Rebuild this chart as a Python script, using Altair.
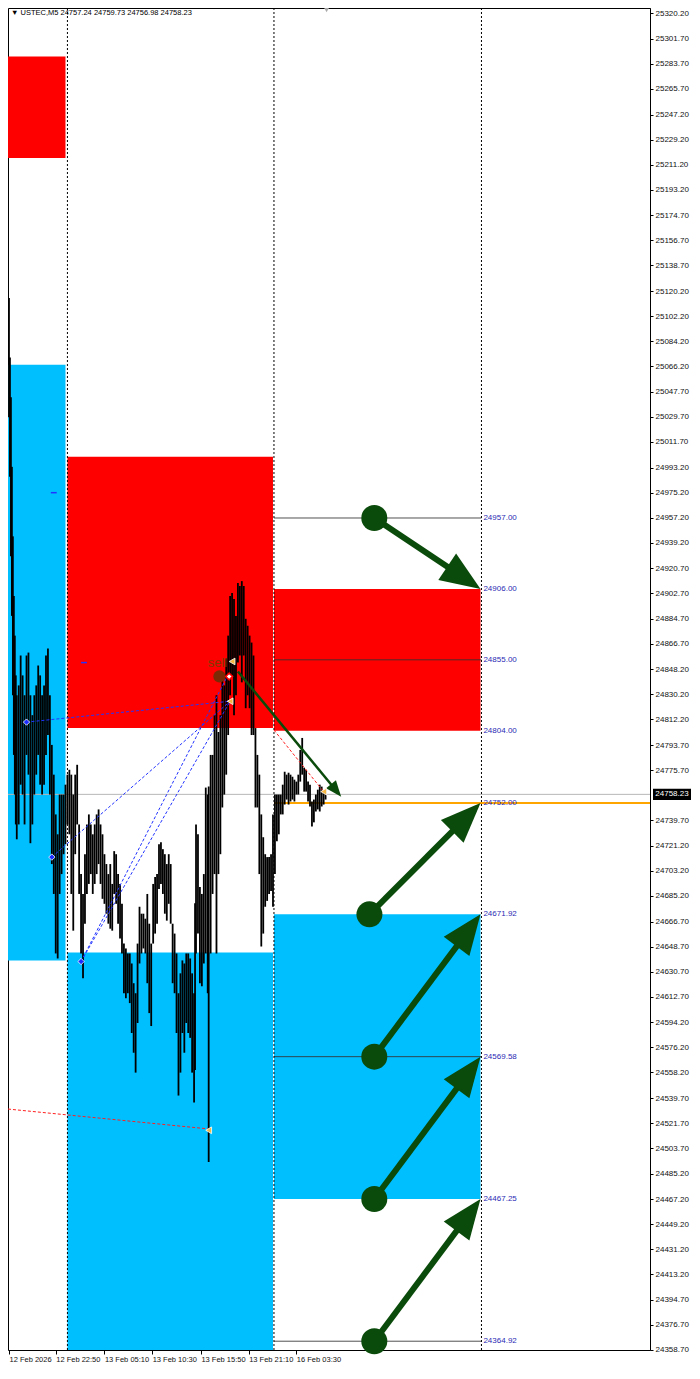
import math
import altair as alt
import pandas as pd

# ---------------- data ----------------
price_bar = [1, 2, 3, 4, 5, 6, 7, 8, 9, 10, 12, 14, 16, 18, 20, 22, 24, 26, 28, 30,
             32, 34, 36, 38, 40, 42, 44, 46, 48, 50, 52, 54, 56, 58, 60, 62, 64, 66, 68, 70,
             72, 74, 76, 78, 80, 82, 84, 86, 88, 90, 92, 94, 96, 98, 100, 102, 104, 106, 108, 110,
             112, 114, 116, 118, 120, 122, 124, 126, 128, 130, 132, 134, 136, 138, 140, 142, 144, 146, 148, 150,
             152, 154, 156, 158, 160, 162, 164, 166, 168, 170, 172, 174, 176, 178, 180, 182, 184, 186, 188, 190,
             192, 193, 194, 196, 198, 200, 202, 204, 206, 207, 209, 211, 213, 215, 217, 219, 221, 223, 225, 227,
             229, 231, 233, 235, 237, 239, 241, 243, 245, 247, 249, 251, 253, 255, 257, 259, 261, 263, 265, 267,
             269, 271, 273, 275, 277, 279, 281, 283, 285, 287, 289, 291, 293, 295, 297, 299, 301, 303, 305, 307,
             309, 311, 313, 315, 317, 319, 321, 323, 325, 327]
price_high = [25175.9, 25115.2, 25072.4, 25043.8, 24993.8, 24943.8, 24900.9, 24872.4, 24843.8, 24829.5,
              24836.6, 24858.1, 24843.8, 24829.5, 24858.1, 24860.2, 24829.5, 24815.2, 24829.5, 24836.6,
              24850.9, 24843.8, 24829.5, 24836.6, 24858.1, 24863.1, 24829.5, 24793.8, 24772.4, 24743.8,
              24729.5, 24758.1, 24758.1, 24758.1, 24765.2, 24772.4, 24775.9, 24772.4, 24758.1, 24772.4,
              24779.5, 24736.6, 24700.9, 24686.6, 24715.2, 24736.6, 24743.8, 24736.6, 24729.5, 24736.6,
              24743.8, 24747.4, 24736.6, 24729.5, 24715.2, 24708.1, 24700.9, 24708.1, 24693.8, 24717.4,
              24715.2, 24700.9, 24693.8, 24679.5, 24650.9, 24647.4, 24643.8, 24643.8, 24636.6, 24622.4,
              24615.2, 24650.9, 24677.4, 24672.4, 24672.4, 24668.8, 24686.6, 24665.2, 24650.9, 24693.8,
              24698.8, 24700.9, 24722.4, 24723.8, 24718.8, 24715.2, 24708.1, 24715.2, 24708.1, 24665.2,
              24658.1, 24643.8, 24615.2, 24629.5, 24638.8, 24636.6, 24643.8, 24643.8, 24640.2, 24629.5,
              24615.2, 24680.0, 24736.6, 24729.5, 24691.6, 24686.6, 24700.9, 24763.1, 24758.1, 24763.8,
              24786.6, 24786.6, 24815.2, 24829.5, 24803.1, 24815.2, 24843.8, 24836.6, 24855.9, 24872.4,
              24900.9, 24903.1, 24898.8, 24886.6, 24910.2, 24908.1, 24911.6, 24908.1, 24884.5, 24879.5,
              24872.4, 24867.4, 24858.1, 24805.9, 24786.6, 24772.4, 24743.8, 24727.4, 24715.2, 24713.1,
              24713.1, 24715.2, 24743.8, 24758.1, 24758.1, 24758.1, 24758.1, 24765.2, 24774.5, 24772.4,
              24773.8, 24772.4, 24770.9, 24768.8, 24767.4, 24772.4, 24790.2, 24798.8, 24777.4, 24775.9,
              24767.4, 24765.2, 24753.1, 24754.5, 24758.1, 24761.6, 24765.2, 24763.8, 24760.2, 24761.6]
price_low = [25093.8, 25029.5, 24986.6, 24929.5, 24886.6, 24829.5, 24786.6, 24758.1, 24736.6, 24725.9,
             24736.6, 24765.2, 24758.1, 24736.6, 24786.6, 24772.4, 24723.1, 24736.6, 24758.1, 24772.4,
             24786.6, 24765.2, 24758.1, 24765.2, 24786.6, 24800.9, 24758.1, 24708.1, 24686.6, 24643.8,
             24640.2, 24686.6, 24700.9, 24715.2, 24722.4, 24736.6, 24729.5, 24686.6, 24660.2, 24715.2,
             24736.6, 24686.6, 24643.8, 24625.9, 24665.2, 24686.6, 24693.8, 24700.9, 24686.6, 24693.8,
             24700.9, 24708.1, 24693.8, 24683.1, 24679.5, 24672.4, 24665.2, 24661.6, 24660.2, 24686.6,
             24679.5, 24665.2, 24654.5, 24643.8, 24615.2, 24611.6, 24615.2, 24608.1, 24586.6, 24572.4,
             24558.1, 24593.8, 24636.6, 24643.8, 24647.4, 24643.8, 24622.4, 24600.9, 24591.6, 24650.9,
             24658.1, 24665.2, 24690.2, 24693.8, 24686.6, 24672.4, 24667.4, 24679.5, 24665.2, 24622.4,
             24615.2, 24586.6, 24541.6, 24558.1, 24586.6, 24572.4, 24593.8, 24586.6, 24583.1, 24558.1,
             24536.6, 24560.0, 24643.8, 24658.1, 24622.4, 24620.2, 24636.6, 24643.8, 24615.2, 24493.8,
             24643.8, 24686.6, 24700.9, 24643.8, 24700.9, 24715.2, 24748.8, 24758.1, 24772.4, 24800.9,
             24829.5, 24843.8, 24815.2, 24829.5, 24853.1, 24858.1, 24838.8, 24858.1, 24820.2, 24829.5,
             24820.2, 24800.9, 24800.9, 24748.8, 24748.8, 24700.9, 24648.8, 24658.1, 24677.4, 24681.6,
             24686.6, 24688.8, 24677.4, 24700.9, 24724.5, 24729.5, 24743.8, 24743.8, 24750.9, 24754.5,
             24750.9, 24753.1, 24754.5, 24753.1, 24758.1, 24758.1, 24767.4, 24772.4, 24760.2, 24760.2,
             24753.1, 24749.5, 24735.2, 24738.1, 24745.9, 24747.4, 24745.9, 24749.5, 24750.9, 24754.5]

# supply / demand zones
zone_start = [1, 1, 62, 62, 274, 274]
zone_end = [60, 60, 273, 273, 486, 486]
zone_top = [25289.0, 25067.3, 25001.0, 24644.5, 24906.00, 24671.92]
zone_bottom = [25216.0, 24638.8, 24806.0, 24300.0, 24804.00, 24467.25]
zone_kind = ["supply", "demand", "supply", "demand", "supply", "demand"]

# price levels of the projection grid
level_price = [24957.00, 24906.00, 24855.00, 24804.00, 24752.00, 24671.92, 24569.58, 24467.25, 24364.92]
level_line_price = [24957.00, 24855.00, 24569.58, 24364.92]
level_start, level_end, level_label_bar = 274, 487, 489
pivot_price = 24752.00
current_price = 24758.23

# period separators
separator_bar = [62, 274, 487]

# x-axis ticks
tick_bar = [2, 50, 100, 149, 199, 248, 297]
tick_text = ["12 Feb 2026", "12 Feb 22:50", "13 Feb 05:10", "13 Feb 10:30",
             "13 Feb 15:50", "13 Feb 21:10", "16 Feb 03:30"]

# y-axis ticks (24757.70 is hidden behind the current-price box)
y_ticks = [25320.20, 25301.70, 25283.70, 25265.70, 25247.20, 25229.20, 25211.20, 25193.20, 25174.70,
           25156.70, 25138.70, 25120.20, 25102.20, 25084.20, 25066.20, 25047.70, 25029.70, 25011.70,
           24993.20, 24975.20, 24957.20, 24939.20, 24920.70, 24902.70, 24884.70, 24866.70, 24848.20,
           24830.20, 24812.20, 24793.70, 24775.70, 24739.70, 24721.20, 24703.20, 24685.20,
           24666.70, 24648.70, 24630.70, 24612.70, 24594.20, 24576.20, 24558.20, 24539.70, 24521.70,
           24503.70, 24485.20, 24467.20, 24449.20, 24431.20, 24413.20, 24394.70, 24376.70, 24358.70]

# big green projection arrows
arrow_from_bar = [377, 372, 377, 377, 377]
arrow_from_price = [24957.00, 24671.92, 24569.58, 24467.25, 24364.92]
arrow_to_bar = [486, 486, 486, 486, 486]
arrow_to_price = [24906.00, 24752.00, 24671.92, 24569.58, 24467.25]

# small green arrow from the sell signal
sarrow_from_bar, sarrow_from_price = 237, 24846.6
sarrow_to_bar, sarrow_to_price = 343, 24756.6

# signal objects
blue_pt_bar = [20, 46, 76]
blue_pt_price = [24810.2, 24713.1, 24638.0]
blue_line_from_bar = [20, 46, 76, 76]
blue_line_from_price = [24810.2, 24713.1, 24638.0, 24638.0]
blue_line_to_bar = [229, 229, 226, 229]
blue_line_to_price = [24825.2, 24825.2, 24843.0, 24825.2]
blue_dash_from_bar = [45, 76]
blue_dash_to_bar = [51, 82]
blue_dash_price = [24975.2, 24853.0]
yellow_pt_bar = [231, 229, 207, 325]
yellow_pt_price = [24853.8, 24825.2, 24516.6, 24760.2]
red_line_from_bar = [1, 274]
red_line_from_price = [24531.9, 24804.5]
red_line_to_bar = [207, 325]
red_line_to_price = [24517.6, 24760.2]
red_diamond_bar, red_diamond_price = 228, 24843.0
sell_bar, sell_price = 218, 24843.0
sell_text_bar, sell_text_price = 216, 24853.0
top_marker_bar = 328

title_text = "\u25BC USTEC,M5  24757.24 24759.73 24756.98 24758.23"

# ---------------- layout / style ----------------
X_MIN, X_MAX = 1, 660
Y_MIN, Y_MAX = 24358.6, 25323.8
W, H = 642, 1342
PAD_RIGHT, PAD_BOTTOM = 42, 14
FONT = "Liberation Sans, Arial, sans-serif"
GREEN = "#0a4a0a"
HEAD_PATH = "M0,0 L0.8,2 L-0.8,2 Z"
BOX_PATH = "M-1,-0.3 L1,-0.3 L1,0.3 L-1,0.3 Z"

xs = alt.Scale(domain=[X_MIN, X_MAX], nice=False, zero=False)
ys = alt.Scale(domain=[Y_MIN, Y_MAX], nice=False, zero=False)

label_expr = " : ".join(f"datum.value == {b} ? '{t}'" for b, t in zip(tick_bar, tick_text)) + " : ''"
x_axis = alt.Axis(values=tick_bar, labelExpr=label_expr, orient="bottom", tickSize=4, tickColor="#000",
                  labelAlign="left", labelBaseline="top", labelPadding=1, labelFontSize=7.5,
                  labelFont=FONT, labelColor="#111", domain=False, grid=False, labelOverlap=False,
                  labelFlush=False, title=None)
y_axis = alt.Axis(values=y_ticks, format=".2f", orient="right", tickSize=3, tickColor="#000",
                  labelPadding=2, labelFontSize=8, labelFont=FONT, labelColor="#111",
                  domain=True, domainColor="#000", grid=False, labelOverlap=False,
                  labelFlush=False, title=None)


def X(field):
    return alt.X(field, type="quantitative", scale=xs, axis=x_axis, title=None)


def Y(field):
    return alt.Y(field, type="quantitative", scale=ys, axis=y_axis, title=None)


def segments(df, color, width, dash=None, opacity=1.0):
    kw = dict(color=color, strokeWidth=width, opacity=opacity, clip=True)
    if dash is not None:
        kw["strokeDash"] = dash
    return alt.Chart(df).mark_rule(**kw).encode(x=X("b0"), x2="b1:Q", y=Y("p0"), y2="p1:Q")


# zones
zones_df = pd.DataFrame({"b0": zone_start, "b1": zone_end, "top": zone_top,
                         "bottom": zone_bottom, "kind": zone_kind})
zones = alt.Chart(zones_df).mark_rect(clip=True).encode(
    x=X("b0"),
    x2="b1:Q",
    y=Y("top"),
    y2="bottom:Q",
    color=alt.Color("kind:N", scale=alt.Scale(domain=["supply", "demand"],
                                              range=["#ff0000", "#00bfff"]), legend=None),
)

# current price line (grey) across the chart
cur_df = pd.DataFrame({"b0": [X_MIN], "b1": [X_MAX], "p0": [current_price], "p1": [current_price]})
cur_line = segments(cur_df, "#b8b8b8", 1)

# level lines
lvl_df = pd.DataFrame({"b0": [level_start] * len(level_line_price), "b1": [level_end] * len(level_line_price),
                       "p0": level_line_price, "p1": level_line_price})
lvl_lines = segments(lvl_df, "#333333", 1, opacity=0.85)

pivot_df = pd.DataFrame({"b0": [level_start], "b1": [X_MAX], "p0": [pivot_price], "p1": [pivot_price]})
pivot_line = segments(pivot_df, "#ffa500", 2)

# separators
sep_df = pd.DataFrame({"b": separator_bar})
separators = alt.Chart(sep_df).mark_rule(color="#000", strokeWidth=1, strokeDash=[2, 2]).encode(x=X("b"))

# price bars
price_df = pd.DataFrame({"bar": price_bar, "high": price_high, "low": price_low})
assert len(price_bar) == len(price_high) == len(price_low)
prices = alt.Chart(price_df).mark_rule(color="#000", strokeWidth=1.8, clip=True).encode(
    x=X("bar"), y=Y("high"), y2="low:Q")

# dashed signal lines
blue_df = pd.DataFrame({"b0": blue_line_from_bar, "b1": blue_line_to_bar,
                        "p0": blue_line_from_price, "p1": blue_line_to_price})
blue_lines = segments(blue_df, "#2233ff", 1, dash=[3, 2])
bdash_df = pd.DataFrame({"b0": blue_dash_from_bar, "b1": blue_dash_to_bar,
                         "p0": blue_dash_price, "p1": blue_dash_price})
blue_dashes = segments(bdash_df, "#2233ff", 1.5)
red_df = pd.DataFrame({"b0": red_line_from_bar, "b1": red_line_to_bar,
                       "p0": red_line_from_price, "p1": red_line_to_price})
red_lines = segments(red_df, "#ff2020", 1, dash=[3, 2])

# markers
blue_pts = alt.Chart(pd.DataFrame({"b": blue_pt_bar, "p": blue_pt_price})).mark_point(
    shape="diamond", filled=True, color="#1a2cff", size=40, opacity=1,
    stroke="#ffffff", strokeWidth=0.8).encode(x=X("b"), y=Y("p"))
yellow_pts = alt.Chart(pd.DataFrame({"b": yellow_pt_bar, "p": yellow_pt_price})).mark_point(
    shape="triangle-left", filled=True, color="#f4b642", size=45, opacity=1,
    stroke="#ffffff", strokeWidth=0.8).encode(x=X("b"), y=Y("p"))
red_diamond = alt.Chart(pd.DataFrame({"b": [red_diamond_bar], "p": [red_diamond_price]})).mark_point(
    shape="diamond", filled=True, fill="#ffffff", stroke="#ff0000", strokeWidth=1.5, size=45,
    opacity=1).encode(x=X("b"), y=Y("p"))
sell_dot = alt.Chart(pd.DataFrame({"b": [sell_bar], "p": [sell_price]})).mark_point(
    shape="circle", filled=True, color="#7a2a05", size=150, opacity=1).encode(x=X("b"), y=Y("p"))
sell_text = alt.Chart(pd.DataFrame({"b": [sell_text_bar], "p": [sell_text_price], "t": ["sell"]})).mark_text(
    fontSize=13, font=FONT, color="#7f3a00", align="center",
    baseline="middle").encode(x=X("b"), y=Y("p"), text="t:N")

# arrows
kx = W / (X_MAX - X_MIN)
ky = H / (Y_MAX - Y_MIN)


def arrow_frames(b0s, p0s, b1s, p1s, head_len):
    shafts, heads = [], []
    for b0, p0, b1, p1 in zip(b0s, p0s, b1s, p1s):
        dx = (b1 - b0) * kx
        dy = -(p1 - p0) * ky
        dist = math.hypot(dx, dy)
        ang = math.degrees(math.atan2(dx, -dy)) % 360
        t = 1 - (head_len * 0.6) / dist
        shafts.append({"b0": b0, "p0": p0, "b1": b0 + t * (b1 - b0), "p1": p0 + t * (p1 - p0)})
        heads.append({"b": b1, "p": p1, "ang": ang})
    return pd.DataFrame(shafts), pd.DataFrame(heads)


big_shaft_df, big_head_df = arrow_frames(arrow_from_bar, arrow_from_price, arrow_to_bar, arrow_to_price, 40)
big_shafts = segments(big_shaft_df, GREEN, 6)
big_heads = alt.Chart(big_head_df).mark_point(shape=HEAD_PATH, filled=True, color=GREEN, opacity=1,
                                              size=1600, strokeWidth=0).encode(
    x=X("b"), y=Y("p"), angle=alt.Angle("ang:Q", scale=None))
circles = alt.Chart(pd.DataFrame({"b": arrow_from_bar, "p": arrow_from_price})).mark_point(
    shape="circle", filled=True, color=GREEN, size=676, opacity=1).encode(x=X("b"), y=Y("p"))

s_shaft_df, s_head_df = arrow_frames([sarrow_from_bar], [sarrow_from_price], [sarrow_to_bar],
                                     [sarrow_to_price], 16)
s_shaft = segments(s_shaft_df, GREEN, 2.5)
s_head = alt.Chart(s_head_df).mark_point(shape=HEAD_PATH, filled=True, color=GREEN, opacity=1,
                                         size=256, strokeWidth=0).encode(
    x=X("b"), y=Y("p"), angle=alt.Angle("ang:Q", scale=None))

# level labels
lbl_df = pd.DataFrame({"b": [level_label_bar] * len(level_price), "p": level_price})
level_labels = alt.Chart(lbl_df).mark_text(align="left", baseline="middle", fontSize=8, font=FONT,
                                           color="#2a2ab4").encode(
    x=X("b"), y=Y("p"), text=alt.Text("p:Q", format=".2f"))

# header text
header = alt.Chart(pd.DataFrame({"t": [title_text]})).mark_text(
    align="left", baseline="middle", fontSize=7.5, font=FONT, color="#000").encode(
    x=alt.value(3), y=alt.value(5), text="t:N")
top_marker = alt.Chart(pd.DataFrame({"b": [top_marker_bar]})).mark_point(
    shape="triangle-down", filled=True, color="#aaaaaa", size=25, opacity=1).encode(
    x=X("b"), y=alt.value(2))

# current price box on the axis
cur_box_df = pd.DataFrame({"p": [current_price]})
cur_box = alt.Chart(cur_box_df).mark_point(shape=BOX_PATH, filled=True, color="#000", opacity=1,
                                           size=1444, strokeWidth=0).encode(x=alt.value(W + 22), y=Y("p"))
cur_text = alt.Chart(cur_box_df).mark_text(align="center", baseline="middle", fontSize=8, font=FONT,
                                           color="#ffffff").encode(
    x=alt.value(W + 22), y=Y("p"), text=alt.Text("p:Q", format=".2f"))

chart = alt.layer(
    zones, cur_line, lvl_lines, pivot_line, separators, prices,
    blue_lines, blue_dashes, red_lines,
    big_shafts, big_heads, circles, s_shaft, s_head,
    sell_dot, sell_text, blue_pts, yellow_pts, red_diamond,
    level_labels, header, top_marker, cur_box, cur_text,
).properties(width=W, height=H, background="#ffffff",
             autosize=alt.AutoSizeParams(type="none"),
             padding={"left": 0, "top": 0, "right": PAD_RIGHT, "bottom": PAD_BOTTOM}).configure_view(
    stroke="#000", strokeWidth=1
)

chart.save("out.html", embed_options={"renderer": "svg", "actions": False})
